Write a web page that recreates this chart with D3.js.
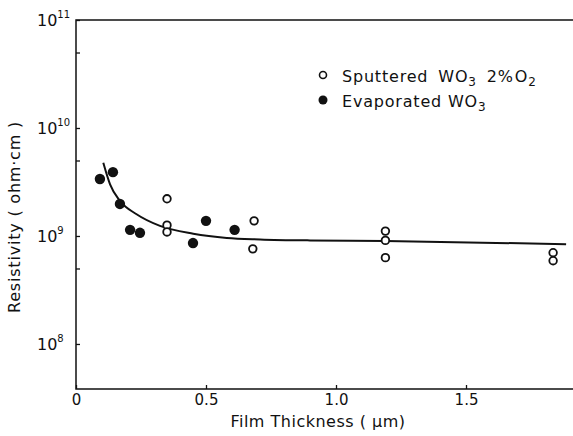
<!DOCTYPE html>
<html>
<head>
<meta charset="utf-8">
<script src="https://cdn.jsdelivr.net/npm/d3@7"></script>
<style>
  body { margin: 0; background: #fff; }
  svg text { font-family: "DejaVu Sans", sans-serif; fill: #111; }
</style>
</head>
<body>
<div id="chart"></div>
<script>
// data
const sputtered = [
    {t: 0.35, r: 2.21e9}, {t: 0.35, r: 1.26e9}, {t: 0.35, r: 1.09e9},
    {t: 0.685, r: 1.38e9}, {t: 0.68, r: 0.76e9},
    {t: 1.19, r: 1.11e9}, {t: 1.19, r: 0.91e9}, {t: 1.19, r: 0.63e9},
    {t: 1.835, r: 0.70e9}, {t: 1.835, r: 0.59e9}
]
const evaporated = [
    {t: 0.092, r: 3.37e9}, {t: 0.142, r: 3.9e9}, {t: 0.169, r: 1.98e9},
    {t: 0.208, r: 1.14e9}, {t: 0.246, r: 1.07e9}, {t: 0.45, r: 0.86e9},
    {t: 0.50, r: 1.38e9}, {t: 0.61, r: 1.14e9}
]
const fitCurve = [
    {t: 0.105, r: 4.77e9}, {t: 0.131, r: 3.01e9}, {t: 0.169, r: 2.11e9},
    {t: 0.233, r: 1.59e9}, {t: 0.323, r: 1.24e9}, {t: 0.451, r: 1.05e9},
    {t: 0.58, r: 0.96e9}, {t: 0.708, r: 0.93e9}, {t: 0.9, r: 0.91e9},
    {t: 1.19, r: 0.90e9}, {t: 1.885, r: 0.84e9}
]
const xTicks = [0, 0.5, 1.0, 1.5]
const xTickLabels = ["0", "0.5", "1.0", "1.5"]
const yMajor = [1e8, 1e9, 1e10, 1e11]
const yExponents = ["8", "9", "10", "11"]
const yMinor = [5e8, 5e9, 5e10]

var width = 573, height = 436;
var plotLeft = 76, plotTop = 20, plotBottom = 389;

var x = d3.scaleLinear().domain([0, 1.9115]).range([plotLeft, width]);
var y = d3.scaleLog().domain([Math.pow(10, 7.583), 1e11]).range([plotBottom, plotTop]);

var svg = d3.select("#chart").append("svg")
    .attr("width", width)
    .attr("height", height);

// frame (right side runs off the picture)
svg.append("path")
    .attr("d", `M${width},${plotTop}H${plotLeft}V${plotBottom}H${width}`)
    .attr("fill", "none")
    .attr("stroke", "#111")
    .attr("stroke-width", 1.5);

// bottom axis, ticks pointing in
var xAxis = svg.append("g")
    .attr("transform", `translate(0,${plotBottom})`)
    .call(d3.axisBottom(x).tickValues(xTicks).tickSize(-4).tickFormat((d, i) => xTickLabels[i]));
xAxis.select(".domain").remove();
xAxis.selectAll("line").attr("stroke", "#111").attr("stroke-width", 1.3);
xAxis.selectAll("text").attr("font-size", 15).attr("y", 16).attr("dy", 0);

// left axis, ticks pointing in
var yAxis = svg.append("g")
    .attr("transform", `translate(${plotLeft},0)`)
    .call(d3.axisLeft(y).tickValues(yMajor.concat(yMinor)).tickSize(-4).tickFormat(""));
yAxis.select(".domain").remove();
yAxis.selectAll("line").attr("stroke", "#111").attr("stroke-width", 1.3);

yMajor.forEach((v, i) => {
    var t = svg.append("text")
        .attr("x", 37)
        .attr("y", y(v) + 6)
        .attr("font-size", 16);
    t.append("tspan").text("10");
    t.append("tspan").attr("dy", -8).attr("font-size", 10).text(yExponents[i]);
});

// axis titles
svg.append("text")
    .attr("x", 318)
    .attr("y", 427)
    .attr("text-anchor", "middle")
    .attr("font-size", 16)
    .attr("letter-spacing", 0.5)
    .text("Film Thickness ( μm)");

svg.append("text")
    .attr("transform", "translate(20,217) rotate(-90)")
    .attr("text-anchor", "middle")
    .attr("font-size", 16)
    .attr("letter-spacing", 0.8)
    .text("Resistivity ( ohm·cm )");

// fitted curve
var line = d3.line()
    .x(d => x(d.t))
    .y(d => y(d.r))
    .curve(d3.curveMonotoneX);

svg.append("path")
    .datum(fitCurve)
    .attr("d", line)
    .attr("fill", "none")
    .attr("stroke", "#111")
    .attr("stroke-width", 2);

// points
svg.selectAll(".evap")
    .data(evaporated)
    .enter()
    .append("circle")
    .attr("class", "evap")
    .attr("cx", d => x(d.t))
    .attr("cy", d => y(d.r))
    .attr("r", 5.2)
    .attr("fill", "#111");

svg.selectAll(".sput")
    .data(sputtered)
    .enter()
    .append("circle")
    .attr("class", "sput")
    .attr("cx", d => x(d.t))
    .attr("cy", d => y(d.r))
    .attr("r", 3.8)
    .attr("fill", "#fff")
    .attr("stroke", "#111")
    .attr("stroke-width", 1.8);

// legend
var legend = svg.append("g");
legend.append("circle")
    .attr("cx", 323).attr("cy", 75).attr("r", 3.5)
    .attr("fill", "#fff").attr("stroke", "#111").attr("stroke-width", 1.6);
legend.append("circle")
    .attr("cx", 323).attr("cy", 100).attr("r", 4.5)
    .attr("fill", "#111");

var l1 = legend.append("text").attr("x", 342).attr("y", 82)
    .attr("font-size", 16).attr("letter-spacing", 0.8);
l1.append("tspan").text("Sputtered");
l1.append("tspan").attr("dx", 10).text("WO");
l1.append("tspan").attr("dy", 4).attr("font-size", 12).text("3");
l1.append("tspan").attr("dy", -4).attr("dx", 10).text("2%");
l1.append("tspan").attr("dx", 1).text("O");
l1.append("tspan").attr("dy", 4).attr("font-size", 12).text("2");

var l2 = legend.append("text").attr("x", 342).attr("y", 107)
    .attr("font-size", 16).attr("letter-spacing", 0.8);
l2.append("tspan").text("Evaporated");
l2.append("tspan").attr("dx", 6).text("WO");
l2.append("tspan").attr("dy", 4).attr("font-size", 12).text("3");
</script>
</body>
</html>
